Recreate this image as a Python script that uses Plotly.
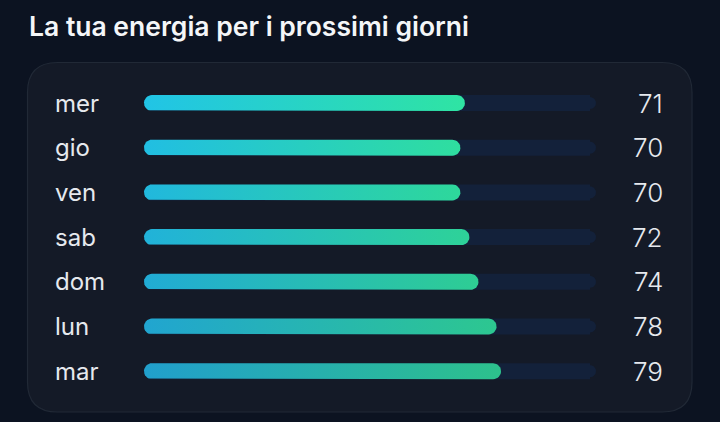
import numpy as np
import plotly.graph_objects as go

# data
days = ['mer', 'gio', 'ven', 'sab', 'dom', 'lun', 'mar']
energy = [71, 70, 70, 72, 74, 78, 79]
max_value = 100
title = 'La tua energia per i prossimi giorni'

W, H = 720, 422
# pixel layout of the value axis (0 -> 144px, 100 -> 596px) and rows
x0_px, x1_px = 144, 596
row0_px, row_step = 103, 44.7
ppx = (x1_px - x0_px) / max_value  # px per unit


def X(px):
    return (px - x0_px) / ppx


def Y(py):
    return (py - row0_px) / row_step


def pill(x_start, x_end, yc, half_px, r_px, n=16):
    rx = r_px / ppx
    ry = r_px / row_step
    hy = half_px / row_step
    a = np.linspace(-np.pi / 2, np.pi / 2, n)
    # right cap (top -> bottom)
    xr = x_end - rx + rx * np.cos(a)
    yr = yc + ry * np.sin(a)
    xr = np.concatenate([[x_end - rx], xr, [x_end - rx]])
    yr = np.concatenate([[yc - hy], yr, [yc + hy]])
    # left cap (bottom -> top)
    xl = x_start + rx - rx * np.cos(a)
    yl = yc - ry * np.sin(a)
    xl = np.concatenate([[x_start + rx], xl, [x_start + rx]])
    yl = np.concatenate([[yc + hy], yl, [yc - hy]])
    xs = np.concatenate([xr, xl, [xr[0]]])
    ys = np.concatenate([yr, yl, [yr[0]]])
    return xs, ys


def mix(c1, c2, t):
    a = [int(c1[i:i + 2], 16) for i in (1, 3, 5)]
    b = [int(c2[i:i + 2], 16) for i in (1, 3, 5)]
    return 'rgb(%d,%d,%d)' % tuple(round(a[k] + (b[k] - a[k]) * t) for k in range(3))


fig = go.Figure()

n = len(days)
for i, (d, v) in enumerate(zip(days, energy)):
    t = i / (n - 1)
    # track
    tx, ty = pill(0, max_value, i, 8, 6)
    fig.add_trace(go.Scatter(x=tx, y=ty, mode='lines', line=dict(width=0),
                             fill='toself', fillcolor='#13213a',
                             hoverinfo='skip', showlegend=False))
    # value bar
    bx, by = pill(0, v, i, 8, 8)
    c_left = mix('#21c4e6', '#219fcc', t)
    c_right = mix('#2fe4a3', '#2dc18c', t)
    fig.add_trace(go.Scatter(x=bx, y=by, mode='lines', line=dict(width=0),
                             fill='toself',
                             fillgradient=dict(type='horizontal',
                                               colorscale=[[0, c_left], [1, c_right]]),
                             name=d, hoverinfo='skip', showlegend=False))
    fig.add_annotation(x=X(53), y=i, text=d, showarrow=False, xanchor='left',
                       yanchor='middle',
                       font=dict(family='Inter', size=24, color='#e6e9ee'))
    fig.add_annotation(x=X(665), y=i, text=str(v), showarrow=False, xanchor='right',
                       yanchor='middle',
                       font=dict(family='Inter', size=26, color='#e6e9ee', weight=300))

fig.add_annotation(x=27 / W, y=1 - 26 / H, xref='paper', yref='paper', text=title,
                   showarrow=False, xanchor='left', yanchor='middle',
                   font=dict(family='Inter', size=26.5, color='#f4f6f8', weight=600))


# rounded card
def card_path(l, t, r, b, rad):
    def p(px, py):
        return '%.5f,%.5f' % (px / W, 1 - py / H)
    return ('M ' + p(l + rad, t) + ' L ' + p(r - rad, t) + ' Q ' + p(r, t) + ' ' + p(r, t + rad) +
            ' L ' + p(r, b - rad) + ' Q ' + p(r, b) + ' ' + p(r - rad, b) +
            ' L ' + p(l + rad, b) + ' Q ' + p(l, b) + ' ' + p(l, b - rad) +
            ' L ' + p(l, t + rad) + ' Q ' + p(l, t) + ' ' + p(l + rad, t) + ' Z')


fig.add_shape(type='path', xref='paper', yref='paper', layer='below',
              path=card_path(27.5, 62.5, 692, 412, 30),
              fillcolor='#141a27', line=dict(color='#212936', width=1.2))

fig.update_layout(
    width=W, height=H,
    margin=dict(l=0, r=0, t=0, b=0),
    paper_bgcolor='#0c1321', plot_bgcolor='rgba(0,0,0,0)',
    xaxis=dict(range=[X(0), X(W)], visible=False, fixedrange=True),
    yaxis=dict(range=[Y(H), Y(0)], visible=False, fixedrange=True),
)

# page has a default body margin; drop it so the figure fills the window
fig.write_html("out.html", config={'displayModeBar': False},
               post_script="document.body.style.margin='0';document.body.style.background='#0c1321';")
